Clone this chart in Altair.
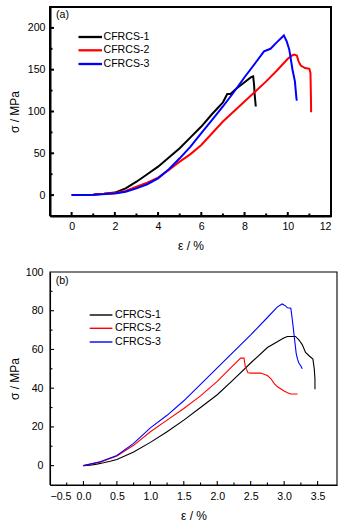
import altair as alt
import pandas as pd

SERIES = ["CFRCS-1", "CFRCS-2", "CFRCS-3"]
COLORS = ["#000000", "#ff0000", "#0000ff"]

# ---- panel (a) ----
a1_x = [0, 1.0, 1.5, 2.0, 2.5, 3.0, 3.5, 4.0, 4.5, 5.0, 5.5, 6.0, 6.5, 7.0, 7.2, 7.35, 7.6, 8.0, 8.3, 8.4, 8.44, 8.47, 8.52]
a1_y = [0, 0.5, 1.5, 3, 8, 16, 25, 34, 45, 56, 69, 82, 97, 111, 121, 121, 127, 135, 141, 142, 132, 120, 106]
a2_x = [1.05, 1.5, 2.0, 2.5, 3.0, 3.5, 4.0, 4.5, 5.0, 5.5, 6.0, 6.5, 7.0, 7.5, 8.0, 8.5, 9.0, 9.5, 10.0, 10.2, 10.3, 10.42, 10.5, 10.6, 10.8, 11.0, 11.05, 11.07, 11.08]
a2_y = [1, 1.5, 2.5, 5, 10, 15, 21, 30, 40, 49, 60, 74, 88, 100, 112, 124, 136, 149, 163, 167, 168, 167, 160, 155, 152, 151, 146, 120, 99]
a3_x = [0, 1.0, 2.0, 2.5, 3.0, 3.5, 4.0, 4.5, 5.0, 5.5, 6.0, 6.5, 7.0, 7.5, 8.0, 8.5, 8.9, 9.0, 9.2, 9.5, 9.82, 9.95, 10.07, 10.22, 10.33, 10.4, 10.42]
a3_y = [0, 0.5, 2, 4, 8, 13, 20, 31, 44, 58, 74, 90, 106, 123, 141, 158, 172, 173, 175, 183, 191, 184, 174, 150, 136, 116, 113]

# ---- panel (b) ----
b1_x = [0, 0.1, 0.2, 0.3, 0.4, 0.5, 0.75, 1.0, 1.25, 1.5, 1.75, 2.0, 2.25, 2.5, 2.75, 3.0, 3.05, 3.17, 3.22, 3.27, 3.32, 3.38, 3.43, 3.45, 3.46, 3.461]
b1_y = [0, 0.2, 0.8, 1.5, 2.3, 3.2, 7, 12, 17.5, 23.5, 30, 36.6, 44.7, 53, 61, 66, 66.7, 66.7, 65, 62.5, 58.5, 56.5, 55, 50, 45, 39.5]
b2_x = [0, 0.25, 0.5, 0.75, 1.0, 1.25, 1.5, 1.75, 2.0, 2.2, 2.35, 2.4, 2.42, 2.46, 2.5, 2.65, 2.75, 2.8, 2.85, 2.9, 3.0, 3.05, 3.1, 3.2]
b2_y = [0, 1.8, 5, 10.5, 17.5, 23.5, 29.5, 36, 43.5, 50.5, 55.5, 55.5, 51, 48, 47.8, 47.8, 46.5, 45, 42.5, 40.7, 38.5, 37.6, 37, 37]
b3_x = [0, 0.25, 0.5, 0.75, 1.0, 1.25, 1.5, 1.75, 2.0, 2.25, 2.5, 2.75, 2.9, 2.97, 3.02, 3.05, 3.1, 3.12, 3.14, 3.16, 3.18, 3.2, 3.22, 3.25, 3.27]
b3_y = [0, 2, 5.2, 11.5, 19.5, 26, 33.5, 42, 50.5, 59, 67.5, 76.5, 82, 83.5, 82.5, 81.5, 81.3, 76, 70, 64, 58, 55, 53, 51.5, 50]

# axis tick values
a_xmajor = [0, 2, 4, 6, 8, 10, 12]
a_xminor = [1, 3, 5, 7, 9, 11]
a_ymajor = [0, 50, 100, 150, 200]
a_yminor = [25, 75, 125, 175]
b_xmajor = [-0.5, 0.0, 0.5, 1.0, 1.5, 2.0, 2.5, 3.0, 3.5]
b_xminor = [-0.25, 0.25, 0.75, 1.25, 1.75, 2.25, 2.75, 3.25]
b_ymajor = [0, 20, 40, 60, 80, 100]
b_yminor = [10, 30, 50, 70, 90]

FONT = "Liberation Sans"


def frame(xs, ys):
    rows = []
    for name, x, y in zip(SERIES, xs, ys):
        for i, (xv, yv) in enumerate(zip(x, y)):
            rows.append({"s": name, "i": i, "x": xv, "y": yv})
    return pd.DataFrame(rows)


def panel(xs, ys, xdom, ydom, xmaj, xmin, ymaj, ymin, xfmt, w, h, lw, tag,
          legx, legy, tagxy, ylabpad, xlabpad, xtitlepad, ytitlepad):
    xscale = alt.Scale(domain=xdom, nice=False, zero=False)
    yscale = alt.Scale(domain=ydom, nice=False, zero=False)
    xaxis = alt.Axis(values=xmaj, format=xfmt, title="ε / %", domainColor="black",
                     domainWidth=lw, tickSize=0, grid=False,
                     labelFont=FONT, labelFontSize=10.6, labelColor="black",
                     labelPadding=xlabpad, titlePadding=xtitlepad,
                     titleFont=FONT, titleFontSize=12, titleFontWeight="normal", titleColor="black")
    yaxis = alt.Axis(values=ymaj, title="σ / MPa", domainColor="black",
                     domainWidth=lw, tickSize=0, grid=False,
                     labelFont=FONT, labelFontSize=10.6, labelColor="black",
                     labelPadding=ylabpad, titlePadding=ytitlepad,
                     titleFont=FONT, titleFontSize=12, titleFontWeight="normal", titleColor="black")
    X = alt.X("x:Q", scale=xscale, axis=xaxis)
    Y = alt.Y("y:Q", scale=yscale, axis=yaxis)

    # plot frame and inward ticks as short paths in data space
    xspan = xdom[1] - xdom[0]
    yspan = ydom[1] - ydom[0]
    segs = []
    sid = 0
    corners = [(xdom[0], ydom[0]), (xdom[1], ydom[0]), (xdom[1], ydom[1]),
               (xdom[0], ydom[1]), (xdom[0], ydom[0])]
    for k, (cx, cy) in enumerate(corners):
        segs.append({"g": sid, "k": k, "x": cx, "y": cy})
    sid += 1
    for vals, ln in ((ymaj, 4), (ymin, 2.5)):
        for v in vals:
            if ydom[0] < v < ydom[1]:
                segs.append({"g": sid, "k": 0, "x": xdom[0], "y": v})
                segs.append({"g": sid, "k": 1, "x": xdom[0] + ln * xspan / w, "y": v})
                sid += 1
    for vals, ln in ((xmaj, 4), (xmin, 2.5)):
        for v in vals:
            if xdom[0] < v < xdom[1]:
                segs.append({"g": sid, "k": 0, "x": v, "y": ydom[0]})
                segs.append({"g": sid, "k": 1, "x": v, "y": ydom[0] + ln * yspan / h})
                sid += 1
    box = alt.Chart(pd.DataFrame(segs)).mark_line(color="black", strokeWidth=lw).encode(
        x=X, y=Y, detail="g:N", order=alt.Order("k:Q"))

    df = frame(xs, ys)
    lines = alt.Chart(df).mark_line(strokeWidth=lw).encode(
        x=X, y=Y,
        color=alt.Color("s:N", scale=alt.Scale(domain=SERIES, range=COLORS), legend=None),
        order=alt.Order("i:Q"),
        detail="s:N",
    )
    layers = [box, lines]
    # legend
    for k, (name, col) in enumerate(zip(SERIES, COLORS)):
        yy = legy[k]
        layers.append(alt.Chart(pd.DataFrame({"n": [name]})).mark_rule(color=col, strokeWidth=lw + 0.3).encode(
            x=alt.value(legx[0]), x2=alt.value(legx[1]), y=alt.value(yy)))
        layers.append(alt.Chart(pd.DataFrame({"n": [name]})).mark_text(
            align="left", baseline="middle", font=FONT, fontSize=10.6, color="black").encode(
            x=alt.value(legx[2]), y=alt.value(yy), text="n:N"))
    layers.append(alt.Chart(pd.DataFrame({"n": [tag]})).mark_text(
        align="left", baseline="middle", font=FONT, fontSize=10.6, color="black").encode(
        x=alt.value(tagxy[0]), y=alt.value(tagxy[1]), text="n:N"))
    return alt.layer(*layers).properties(width=w, height=h)


top = panel([a1_x, a2_x, a3_x], [a1_y, a2_y, a3_y], [-1, 12], [-25, 225],
            a_xmajor, a_xminor, a_ymajor, a_yminor, "d", 281, 209, 2, "(a)",
            [28.5, 52, 53.5], [30, 43.3, 57], (6, 8), 5, 5, 9, 6)
bottom = panel([b1_x, b2_x, b3_x], [b1_y, b2_y, b3_y], [-0.5, 3.79], [-10, 100],
               b_xmajor, b_xminor, b_ymajor, b_yminor, ".1f", 287, 213, 1.1, "(b)",
               [39.7, 62.4, 65], [43, 56.3, 70], (5.7, 9), 7, 6, 9, 4)

chart = alt.vconcat(top, bottom, spacing=15).properties(
    padding={"left": 8, "top": 3, "right": 5, "bottom": 5},
).configure_view(stroke=None)

chart.save("out.html", embed_options={"renderer": "svg", "actions": False})
